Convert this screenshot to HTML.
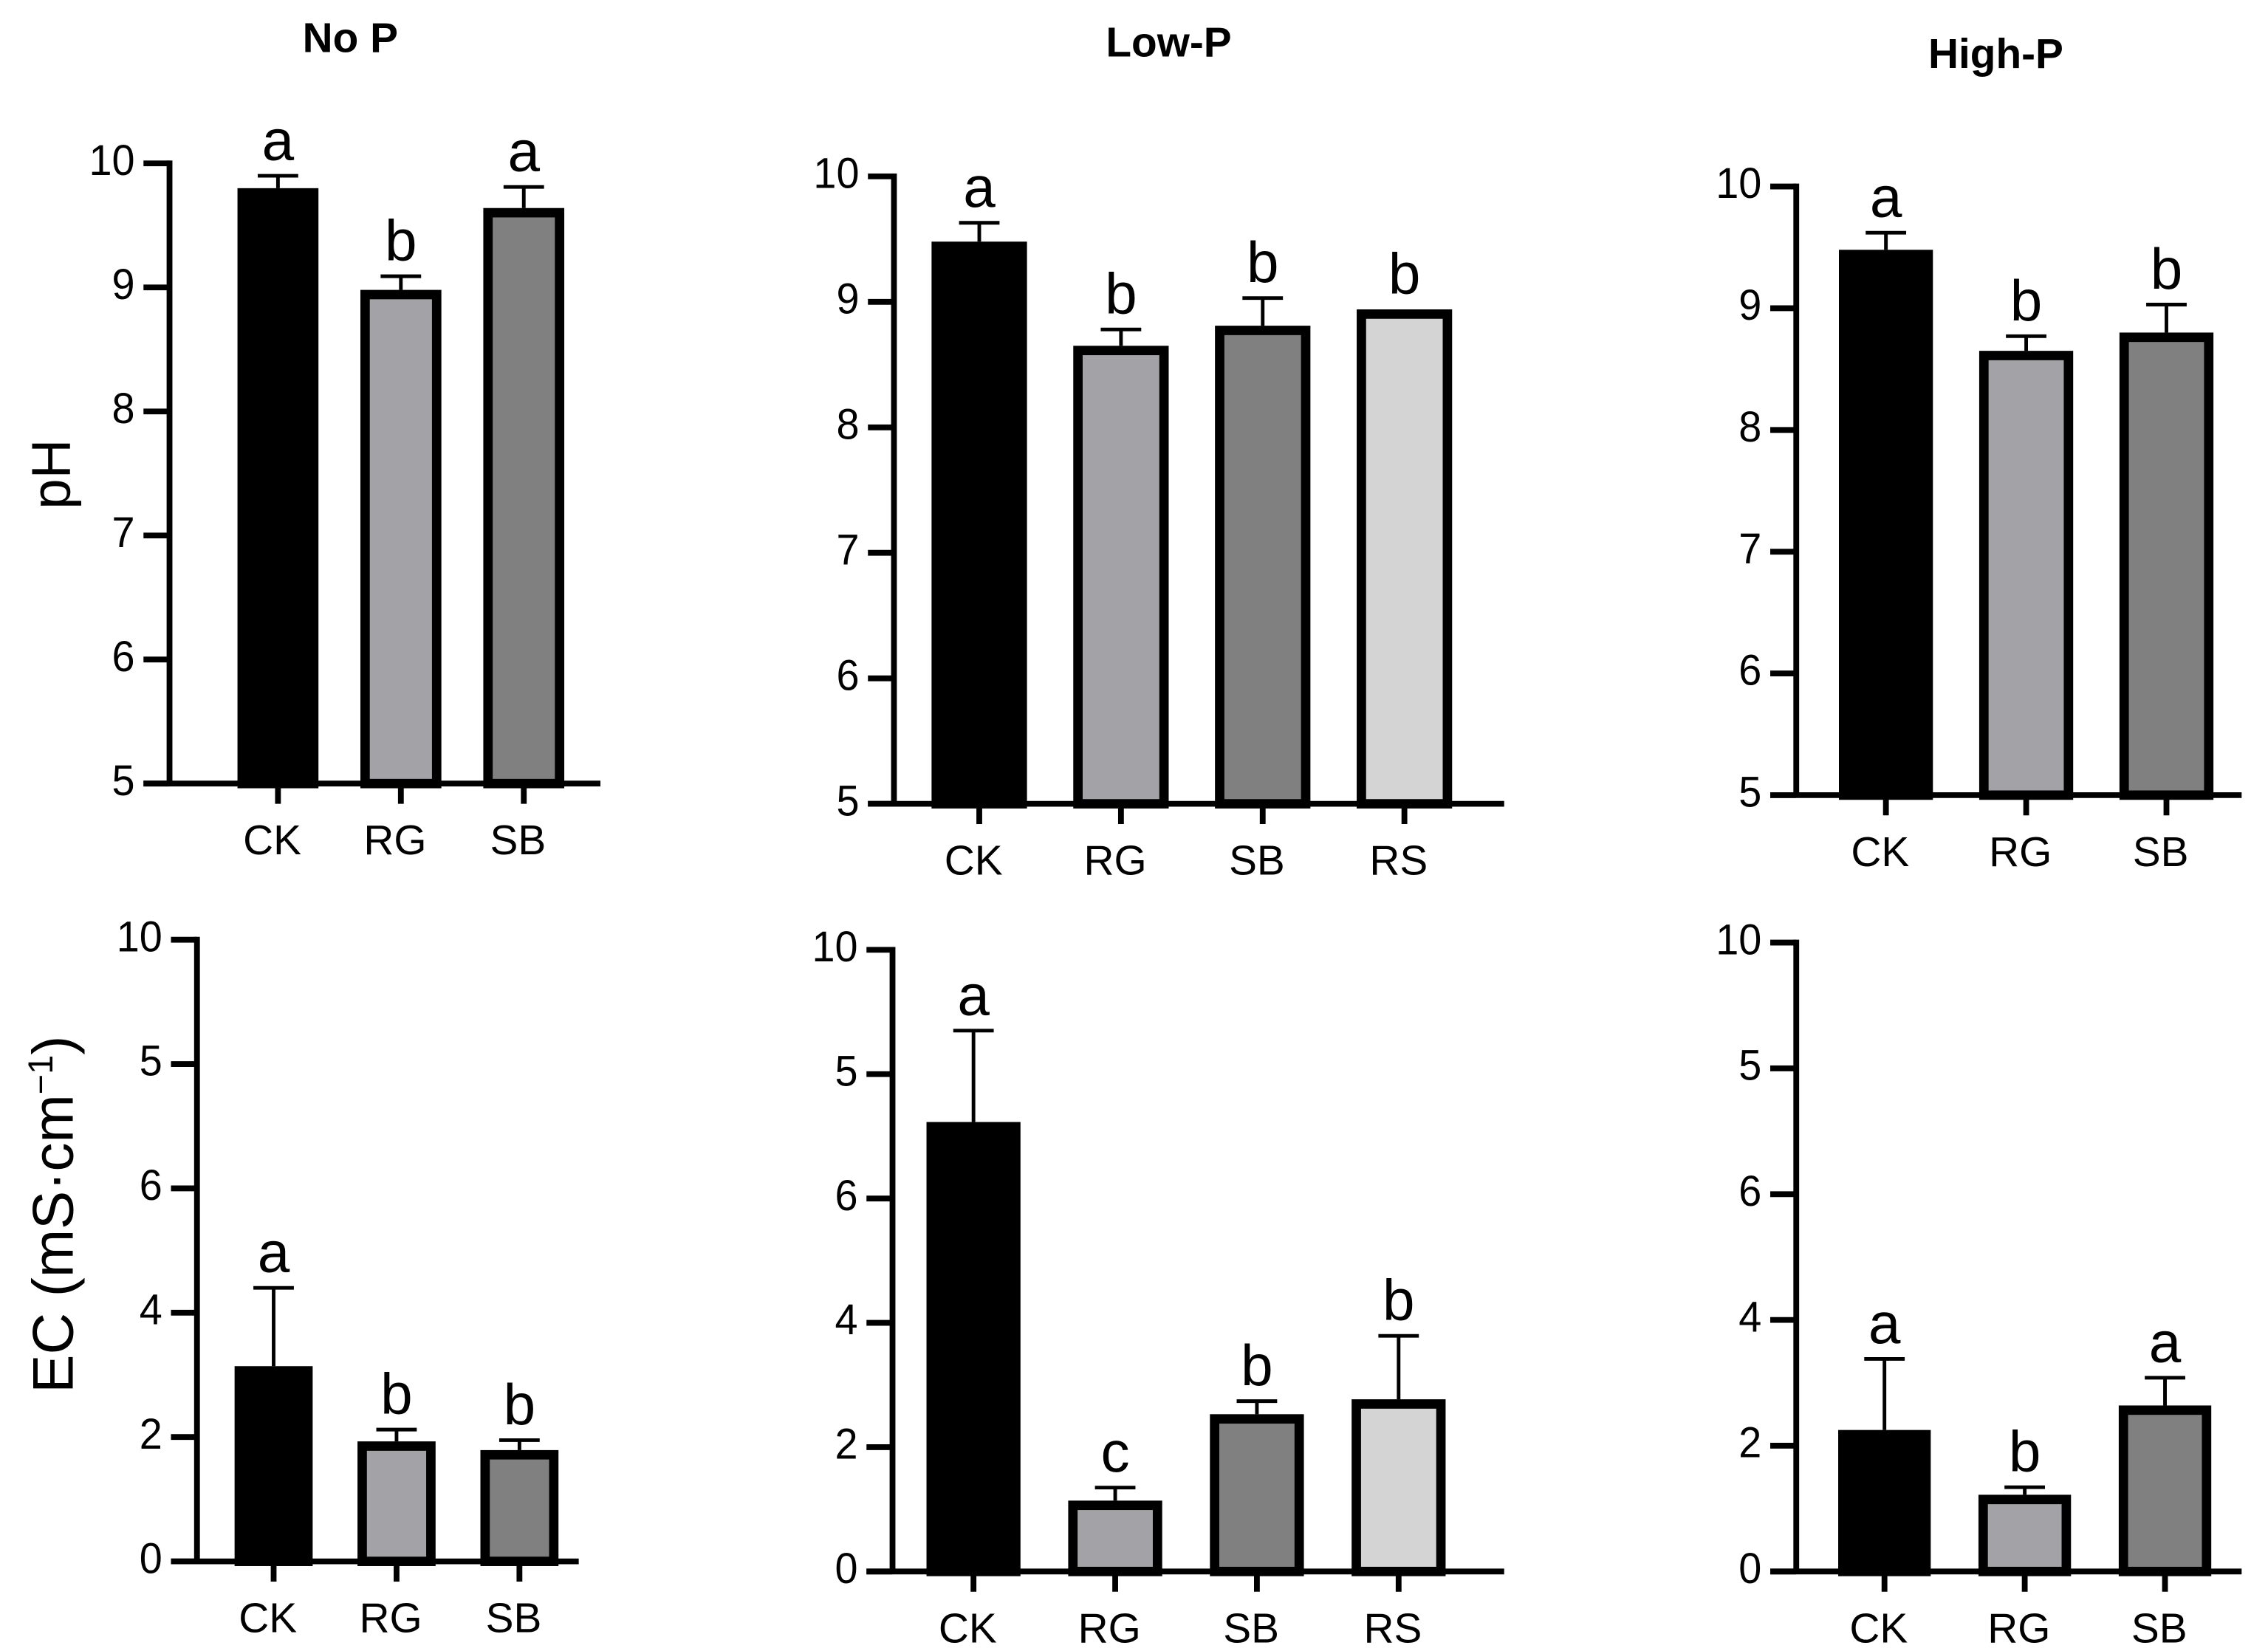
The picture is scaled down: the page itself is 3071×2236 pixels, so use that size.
<!DOCTYPE html>
<html><head><meta charset="utf-8"><style>
html,body{margin:0;padding:0;background:#fff;}
svg{display:block;font-family:"Liberation Sans",Arial,sans-serif;}
</style></head><body>
<svg id="fig" width="3071" height="2236" viewBox="0 0 1568 1142" xmlns="http://www.w3.org/2000/svg"></svg>
<script>
const phNoPCats=["CK","RG","SB"];
const phNoPVals=[9.80,8.98,9.64];
const phNoPErr=[0.10,0.11,0.17];
const phNoPLetters=["a","b","a"];
const phLowPCats=["CK","RG","SB","RS"];
const phLowPVals=[9.48,8.65,8.81,8.94];
const phLowPErr=[0.15,0.13,0.22,0.0];
const phLowPLetters=["a","b","b","b"];
const phHighPCats=["CK","RG","SB"];
const phHighPVals=[9.48,8.65,8.80];
const phHighPErr=[0.14,0.12,0.23];
const phHighPLetters=["a","b","b"];
const ecNoPCats=["CK","RG","SB"];
const ecNoPVals=[3.14,1.93,1.79];
const ecNoPErr=[1.26,0.19,0.16];
const ecNoPLetters=["a","b","b"];
const ecLowPCats=["CK","RG","SB","RS"];
const ecLowPVals=[7.23,1.14,2.53,2.77];
const ecLowPErr=[1.47,0.21,0.21,1.02];
const ecLowPLetters=["a","c","b","b"];
const ecHighPCats=["CK","RG","SB"];
const ecHighPVals=[2.25,1.22,2.64];
const ecHighPErr=[1.13,0.12,0.44];
const ecHighPLetters=["a","b","a"];
const phTickVals=[5,6,7,8,9,10];
const phTickLabels=["5","6","7","8","9","10"];
const ecTickVals=[0,2,4,6,8,10];
const ecTickLabels=["0","2","4","6","5","10"];
const colors={CK:"#000000",RG:"#a3a2a6",SB:"#808080",RS:"#d4d4d4"};

const NS="http://www.w3.org/2000/svg";
const svg=document.getElementById('fig');
function mk(tag,attrs,parent){const e=document.createElementNS(NS,tag);for(const k in attrs)e.setAttribute(k,attrs[k]);(parent||svg).appendChild(e);return e;}
function ctext(parent,x,y,size,anchor,sx){return mk('text',{x:0,y:0,'font-size':size,'text-anchor':anchor,transform:'translate('+x+','+y+') scale('+sx+',1)'},parent);}

function panel(id,g,cats,vals,errs,letters,tickVals,tickLabels,ymin,ymax){
  const grp=mk('g',{});
  
  
  const y=v=>g.base-(v-ymin)/(ymax-ymin)*(g.base-g.top);
  const ax=mk('line',{x1:g.ax,y1:g.top-2,x2:g.ax,y2:g.base,stroke:'#000','stroke-width':4},grp);
  
  
  const xa=mk('line',{x1:g.ax-18,y1:g.base,x2:g.xend,y2:g.base,stroke:'#000','stroke-width':4},grp);
  
  
  tickVals.forEach((tv,i)=>{
    const ty=y(tv);
    const t=mk('line',{x1:g.ax-18,y1:ty,x2:g.ax,y2:ty,stroke:'#000','stroke-width':4},grp);
    
    
    const l=ctext(grp,g.ax-24,ty+8,30,'end',0.95);
    l.textContent=tickLabels[i];
    
    
  });
  cats.forEach((c,i)=>{
    const cx=g.x0+i*g.step;
    const bw=g.bw;
    const top=y(vals[i]);
    const bar=mk('rect',{x:cx-bw/2+3.25,y:top+3.25,width:bw-6.5,height:g.base-top-3.25,fill:colors[c],stroke:'#000','stroke-width':6.5},grp);
    
    
    if(errs[i]>0){
      const et=y(vals[i]+errs[i]);
      const el=mk('line',{x1:cx,y1:top,x2:cx,y2:et,stroke:'#000','stroke-width':2.5},grp);
      
      
      const cap=mk('line',{x1:cx-14,y1:et,x2:cx+14,y2:et,stroke:'#000','stroke-width':2.5},grp);
      
      
    }
    const lt=y(vals[i]+errs[i])-11;
    const let_=ctext(grp,cx,lt,40,'middle',1);
    let_.textContent=letters[i];
    
    
    const xt=mk('line',{x1:cx,y1:g.base,x2:cx,y2:g.base+14,stroke:'#000','stroke-width':4},grp);
    
    
    const xl=ctext(grp,cx-4,g.base+49,29,'middle',1);
    xl.textContent=c;
    
    
  });
}

panel('ph-no-p',{ax:117,top:113,base:542,xend:415,x0:192,step:85,bw:56},phNoPCats,phNoPVals,phNoPErr,phNoPLetters,phTickVals,phTickLabels,5,10);
panel('ph-low-p',{ax:618,top:122,base:556,xend:1040,x0:677,step:98,bw:66},phLowPCats,phLowPVals,phLowPErr,phLowPLetters,phTickVals,phTickLabels,5,10);
panel('ph-high-p',{ax:1242,top:129,base:550,xend:1550,x0:1304,step:97,bw:65},phHighPCats,phHighPVals,phHighPErr,phHighPLetters,phTickVals,phTickLabels,5,10);
panel('ec-no-p',{ax:136,top:650,base:1080,xend:400,x0:189,step:85,bw:54},ecNoPCats,ecNoPVals,ecNoPErr,ecNoPLetters,ecTickVals,ecTickLabels,0,10);
panel('ec-low-p',{ax:617,top:657,base:1087,xend:1040,x0:673,step:98,bw:65},ecLowPCats,ecLowPVals,ecLowPErr,ecLowPLetters,ecTickVals,ecTickLabels,0,10);
panel('ec-high-p',{ax:1242,top:652,base:1087,xend:1550,x0:1303,step:97,bw:64},ecHighPCats,ecHighPVals,ecHighPErr,ecHighPLetters,ecTickVals,ecTickLabels,0,10);

function txt(name,x,y,s,attrs){const t=mk('text',Object.assign({x:x,y:y},attrs));t.textContent=s;return t;}
txt('title-no-p',242,36,'No P',{'font-size':29,'font-weight':'bold','text-anchor':'middle'});
txt('title-low-p',808,39,'Low-P',{'font-size':29,'font-weight':'bold','text-anchor':'middle'});
txt('title-high-p',1380,47,'High-P',{'font-size':29,'font-weight':'bold','text-anchor':'middle'});
txt('y-axis-title-ph',0,0,'pH',{'font-size':38,'text-anchor':'middle',transform:'translate(48,328) rotate(-90)'});
const ec=txt('y-axis-title-ec',0,0,'EC (mS·cm',{'font-size':40,'text-anchor':'middle',transform:'translate(50,840) rotate(-90)'});
const sup=mk('tspan',{dy:-14,'font-size':24},ec);sup.textContent='−1';


const cl=mk('tspan',{dy:14},ec);cl.textContent=')';


</script>
</body></html>
